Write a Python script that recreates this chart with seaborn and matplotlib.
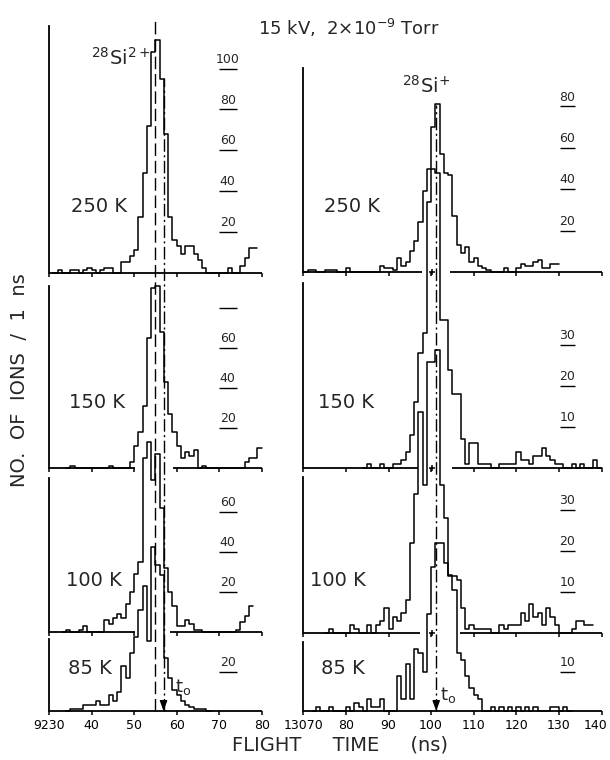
import numpy as np
import pandas as pd
import matplotlib
matplotlib.use("Agg")
import matplotlib.pyplot as plt
import matplotlib.transforms as mtransforms
import seaborn as sns

# ---------------------------------------------------------------- data
title_text = "15 kV,  2$\\times$10$^{-9}$ Torr"
ion_left = "$\\mathregular{^{28}Si^{2+}}$"
ion_right = "$\\mathregular{^{28}Si^{+}}$"
temp_labels = ["250 K", "150 K", "100 K", "85 K"]

# left column: 28Si2+ , 1 ns bins, first bin start (ns)
si2_250_start = 31
si2_250_counts = [0, 1, 0, 0, 1, 1, 0, 1, 2, 1, 0, 1, 2, 2, 0, 0, 5, 5, 8, 11,
                  27, 49, 72, 108, 114, 95, 68, 27, 16, 13, 9, 13, 13, 9, 6, 2,
                  0, 0, 0, 0, 0, 2, 0, 0, 3, 7, 12, 12]
si2_150_start = 34
si2_150_counts = [0, 1, 0, 0, 0, 0, 0, 0, 0, 0, 1, 0, 0, 0, 0, 3, 11, 18, 31,
                  65, 90, 91, 68, 43, 27, 18, 11, 5, 8, 6, 9, 0, 1, 0, 0, 0, 0,
                  0, 0, 0, 0, 0, 3, 5, 5, 10]
si2_100_start = 33
si2_100_counts = [0, 1, 0, 0, 1, 3, 0, 0, 0, 0, 6, 4, 7, 9, 7, 14, 20, 29, 35,
                  87, 95, 76, 89, 62, 32, 20, 13, 3, 3, 6, 4, 1, 1, 0, 0, 0, 0,
                  0, 0, 0, 0, 1, 5, 8, 13]
si2_85_start = 34
si2_85_counts = [0, 1, 1, 1, 3, 3, 3, 5, 3, 3, 8, 5, 10, 23, 17, 30, 38, 52, 64,
                 36, 84, 75, 70, 27, 17, 11, 8, 5, 3, 2, 1, 1, 1, 0]

# right column: 28Si+ , 1 ns bins
si1_250_start = 70
si1_250_counts = [0, 1, 1, 0, 0, 1, 1, 1, 0, 0, 2, 0, 0, 0, 0, 0, 0, 0, 3, 2,
                  2, 1, 7, 3, 5, 10, 15, 24, 39, 50, 70, 81, 57, 48, 47, 27, 13,
                  9, 12, 5, 7, 3, 2, 1, 0, 0, 0, 2, 0, 0, 2, 4, 3, 3, 5, 6, 2, 2,
                  4, 4]
si1_150_start = 84
si1_150_counts = [0, 1, 0, 0, 1, 0, 0, 1, 1, 2, 4, 8, 16, 28, 33, 65, 73, 72,
                  36, 36, 24, 18, 18, 7, 1, 6, 6, 1, 1, 1, 0, 0, 1, 1, 1, 1, 4,
                  2, 2, 1, 3, 3, 5, 3, 2, 1, 1, 0, 0, 1, 0, 1, 0, 0, 2, 0]
si1_100_start = 75
si1_100_counts = [0, 1, 0, 0, 0, 0, 2, 1, 0, 0, 2, 0, 2, 3, 6, 1, 4, 3, 5, 8,
                  22, 34, 54, 36, 66, 66, 69, 36, 28, 14, 14, 13, 6, 1, 2, 1, 1,
                  1, 1, 0, 0, 2, 1, 2, 2, 2, 5, 3, 7, 4, 5, 2, 6, 4, 2, 0, 0, 0,
                  1, 3, 3, 2, 2]
si1_85_start = 72
si1_85_counts = [0, 1, 0, 0, 1, 0, 0, 0, 1, 0, 2, 1, 0, 3, 1, 1, 3, 0, 0, 0,
                 9, 3, 12, 3, 16, 15, 10, 25, 37, 43, 43, 38, 35, 31, 15, 13, 9,
                 6, 4, 3, 0, 0, 1, 0, 1, 0, 1, 0, 1, 0, 1, 0, 1, 0, 0, 0, 1, 1,
                 0, 1, 0]

# scale labels (count values written inside each panel)
left_scales = [[20, 40, 60, 80, 100], [20, 40, 60, 80], [20, 40, 60], [20]]
left_scale_text = [["20", "40", "60", "80", "100"], ["20", "40", "60", ""],
                   ["20", "40", "60"], ["20"]]
right_scales = [[20, 40, 60, 80], [10, 20, 30], [10, 20, 30], [10]]
right_scale_text = [["20", "40", "60", "80"], ["10", "20", "30"],
                    ["10", "20", "30"], ["10"]]

left_ticks = [30, 40, 50, 60, 70, 80]
left_tick_labels = ["9230", "40", "50", "60", "70", "80"]
right_ticks = [70, 80, 90, 100, 110, 120, 130, 140]
right_tick_labels = ["13070", "80", "90", "100", "110", "120", "130", "140"]

left_peak_t = 55.0      # dashed line
left_t0 = 56.9          # dash-dot line / arrow
right_t0 = 101.2
cross_t = 100.1         # "+" marks on right baselines

# ---------------------------------------------------------------- style
sns.set_style("white")
plt.rcParams["font.family"] = ["DejaVu Sans"]
plt.rcParams["mathtext.fontset"] = "dejavusans"

FW, FH = 610, 760
fig = plt.figure(figsize=(FW / 100, FH / 100), dpi=100)

# layout in pixels: (x_left, x_right) and (baseline_y, top_y, px_per_count)
left_x = (49.2, 261.7)
right_x = (303.3, 601.5)
left_rows = [(272.5, 26, 2.04), (468, 286, 2.0), (631.5, 478, 2.0), (711, 639, 1.95)]
right_rows = [(272, 68, 2.07), (468, 283, 4.1), (633, 477, 4.1), (711, 642, 3.9)]
left_gaps = [None, (50.2, 59.2), (50.2, 58.4), None]
right_gaps = [(97.8, 104.4), (97.0, 104.8), (97.3, 106.7), None]

left_data = [(si2_250_start, si2_250_counts), (si2_150_start, si2_150_counts),
             (si2_100_start, si2_100_counts), (si2_85_start, si2_85_counts)]
right_data = [(si1_250_start, si1_250_counts), (si1_150_start, si1_150_counts),
              (si1_100_start, si1_100_counts), (si1_85_start, si1_85_counts)]

LW = 1.1


def make_axes(xr, row):
    base, top, ppc = row
    ax = fig.add_axes([xr[0] / FW, 1 - base / FH, (xr[1] - xr[0]) / FW, (base - top) / FH])
    ax.set_facecolor("none")
    ax.patch.set_visible(False)
    return ax


def finish_axes(ax, row, xlim, gap, ticks, tick_labels, bottom):
    base, top, ppc = row
    ax.set_xlim(*xlim)
    ax.set_ylim(0, (base - top) / ppc)
    for s in ["top", "right", "bottom"]:
        ax.spines[s].set_visible(False)
    ax.spines["left"].set_linewidth(1.3)
    ax.spines["left"].set_color("black")
    ax.set_yticks([])
    ax.set_xlabel("")
    ax.set_ylabel("")
    ax.set_xticks(ticks)
    if bottom:
        ax.set_xticklabels(tick_labels)
    else:
        ax.set_xticklabels([""] * len(ticks))
    ax.tick_params(axis="x", direction="out", length=3, width=1.1, pad=3,
                   labelsize=9, colors="black", bottom=True)
    segs = [xlim] if gap is None else [(xlim[0], gap[0]), (gap[1], xlim[1])]
    for a, b in segs:
        ax.hlines(0, a, b, color="black", lw=1.3, clip_on=False)


def draw_hist(ax, start, counts):
    counts = [float(c) for c in counts]
    edges = [float(start + k) for k in range(len(counts) + 1)]
    df = pd.DataFrame({"t": [e + 0.5 for e in edges[:-1]], "n": counts})
    sns.histplot(data=df, x="t", weights="n", bins=edges, element="step",
                 fill=False, color="black", linewidth=LW, ax=ax)
    for ln in ax.lines:
        ln.set_clip_on(False)


def scale_marks(ax, xpos, halfw, values, texts):
    for v, tx in zip(values, texts):
        ax.hlines(v, xpos - halfw, xpos + halfw, color="black", lw=1.0, clip_on=False)
        if tx:
            ax.annotate(tx, (xpos, v), xytext=(0, 2), textcoords="offset points",
                        ha="center", va="bottom", fontsize=9, annotation_clip=False)


left_axes, right_axes = [], []
for i in range(4):
    axl = make_axes(left_x, left_rows[i])
    draw_hist(axl, *left_data[i])
    finish_axes(axl, left_rows[i], (30, 80), left_gaps[i], left_ticks,
                left_tick_labels, i == 3)
    scale_marks(axl, 72.0, 2.1, left_scales[i], left_scale_text[i])
    left_axes.append(axl)

    axr = make_axes(right_x, right_rows[i])
    draw_hist(axr, *right_data[i])
    finish_axes(axr, right_rows[i], (70, 140), right_gaps[i], right_ticks,
                right_tick_labels, i == 3)
    scale_marks(axr, 132.0, 1.8, right_scales[i], right_scale_text[i])
    if right_gaps[i] is not None:
        axr.plot([cross_t], [0], marker="+", ms=5, mew=1.1, color="black",
                 clip_on=False)
    right_axes.append(axr)

# keep the last right tick label ("140") inside the picture
last_lbl = right_axes[3].get_xticklabels()[-1]
last_lbl.set_transform(last_lbl.get_transform() +
                       mtransforms.ScaledTranslation(-6 / 100, 0, fig.dpi_scale_trans))

# vertical reference lines spanning the columns
axl = left_axes[3]
b, t, _ = left_rows[3]
axl.axvline(left_peak_t, ymin=0, ymax=(b - 18) / (b - t), color="black", lw=1.0,
            dashes=(9, 3.5), clip_on=False)
axl.axvline(left_t0, ymin=0, ymax=(b - 78) / (b - t), color="black", lw=1.0,
            dashes=(9, 2.5, 1.5, 2.5), clip_on=False)
axl.annotate("", xy=(left_t0, 0), xytext=(left_t0, 5),
             arrowprops=dict(arrowstyle="-|>,head_length=0.6,head_width=0.22",
                             color="black", lw=1.0, shrinkA=0, shrinkB=0),
             annotation_clip=False)
axr = right_axes[3]
b, t, _ = right_rows[3]
axr.axvline(right_t0, ymin=0, ymax=(b - 105) / (b - t), color="black", lw=1.0,
            dashes=(9, 2.5, 1.5, 2.5), clip_on=False)
axr.annotate("", xy=(right_t0, 0), xytext=(right_t0, 2.5),
             arrowprops=dict(arrowstyle="-|>,head_length=0.6,head_width=0.22",
                             color="black", lw=1.0, shrinkA=0, shrinkB=0),
             annotation_clip=False)


def ftext(x, y, s, **kw):
    fig.text(x / FW, 1 - y / FH, s, **kw)


ftext(349, 35, title_text, ha="center", va="baseline", fontsize=13)
ftext(121, 58, ion_left, ha="center", va="center", fontsize=14)
ftext(426, 86, ion_right, ha="center", va="center", fontsize=14)

left_label_pos = [(99, 206), (97, 402), (94, 580), (90, 669)]
right_label_pos = [(352, 207), (346, 402), (338, 580), (343, 669)]
for s, (x, y) in zip(temp_labels, left_label_pos):
    ftext(x, y, s, ha="center", va="center", fontsize=14)
for s, (x, y) in zip(temp_labels, right_label_pos):
    ftext(x, y, s, ha="center", va="center", fontsize=14)

ftext(183, 687, "$\\mathregular{t_o}$", ha="center", va="center", fontsize=13)
ftext(448, 695, "$\\mathregular{t_o}$", ha="center", va="center", fontsize=13)

ftext(20, 380, "NO.  OF  IONS  /  1  ns", ha="center", va="center",
      rotation=90, fontsize=14)
ftext(340, 745, "FLIGHT     TIME     (ns)", ha="center", va="center", fontsize=14)

fig.savefig("out.png", dpi=100)
